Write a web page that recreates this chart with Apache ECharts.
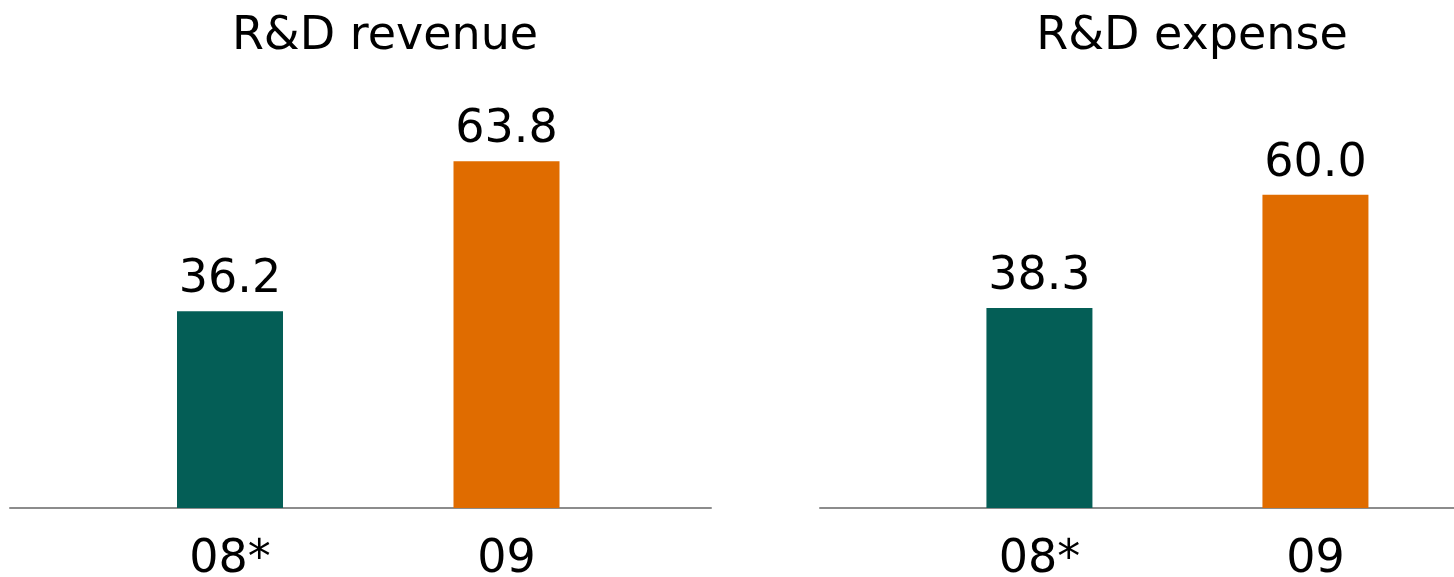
<!DOCTYPE html>
<html>
<head>
<meta charset="utf-8">
<script src="https://cdn.jsdelivr.net/npm/echarts@6/dist/echarts.min.js"></script>
<style>
  html, body { margin: 0; padding: 0; background: #fff; }
  #chart { width: 1454px; height: 577px; }
</style>
</head>
<body>
<div id="chart"></div>
<script>
// data
var categories = ['08*', '09'];
var revenueValues = [36.2, 63.8];
var expenseValues = [38.3, 60.0];
var panelTitles = ['R&D revenue', 'R&D expense'];
var barColors = ['#045E56', '#E06C00'];

var chart = echarts.init(document.getElementById('chart'));
var font = 'DejaVu Sans';

function barData(vals) {
  var out = [];
  for (var i = 0; i < vals.length; i++) {
    out.push({ value: [i, vals[i]], itemStyle: { color: barColors[i] } });
  }
  return out;
}

function xAxisFor(gridIndex, min, max) {
  return {
    type: 'value',
    gridIndex: gridIndex,
    min: min,
    max: max,
    splitLine: { show: false },
    axisLine: { show: true, onZero: false, lineStyle: { color: '#8c8c8c', width: 2 } },
    axisTick: { show: false },
    axisLabel: {
      customValues: [0, 1],
      formatter: function (v) { return categories[Math.round(v)]; },
      color: '#000',
      fontFamily: font,
      fontSize: 46,
      margin: 29
    }
  };
}

function yAxisFor(gridIndex, max) {
  return {
    type: 'value',
    gridIndex: gridIndex,
    min: 0,
    max: max,
    show: false,
    splitLine: { show: false }
  };
}

function seriesFor(idx, vals) {
  return {
    type: 'bar',
    xAxisIndex: idx,
    yAxisIndex: idx,
    barWidth: 106,
    data: barData(vals),
    label: {
      show: true,
      position: 'top',
      distance: 8,
      color: '#000',
      fontFamily: font,
      fontSize: 46,
      formatter: function (p) { return p.value[1].toFixed(1); }
    }
  };
}

var option = {
  animation: false,
  title: [
    { text: panelTitles[0], left: 380, top: 9, textAlign: 'center',
      textStyle: { fontFamily: font, fontSize: 46, fontWeight: 'normal', color: '#000' } },
    { text: panelTitles[1], left: 1187, top: 9, textAlign: 'center',
      textStyle: { fontFamily: font, fontSize: 46, fontWeight: 'normal', color: '#000' } }
  ],
  grid: [
    { left: 10, width: 701, top: 0, bottom: 69, outerBoundsMode: 'none', containLabel: false },
    { left: 820, right: 0, top: 0, bottom: 69, outerBoundsMode: 'none', containLabel: false }
  ],
  xAxis: [
    xAxisFor(0, -0.7957, 1.7396),
    xAxisFor(1, -0.795, 1.502)
  ],
  yAxis: [
    yAxisFor(0, 93.5),
    yAxisFor(1, 97.3)
  ],
  series: [
    seriesFor(0, revenueValues),
    seriesFor(1, expenseValues)
  ]
};

chart.setOption(option);
window.addEventListener('resize', function () { chart.resize(); });
</script>
</body>
</html>
